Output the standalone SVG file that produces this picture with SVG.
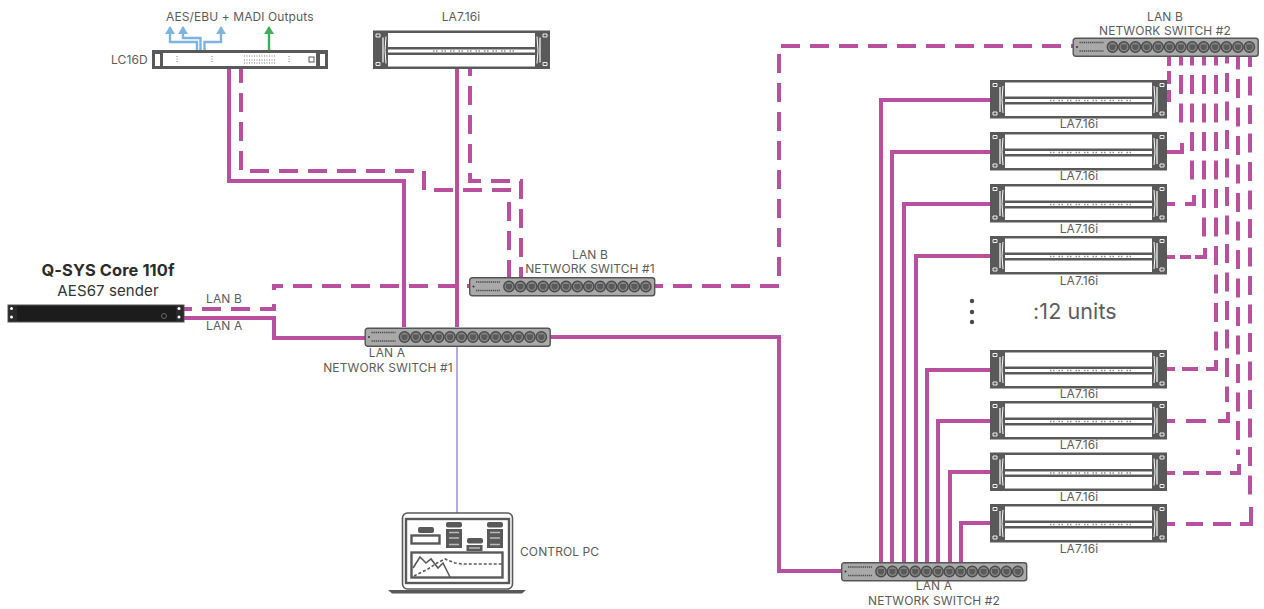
<svg xmlns="http://www.w3.org/2000/svg" width="1264" height="609" viewBox="0 0 1264 609">
<style>
text{font-family:"Inter","Liberation Sans",sans-serif;fill:#5c5c5c;font-size:12px;letter-spacing:.1px}
.m{text-anchor:middle}
.w{fill:none;stroke:#b9509f;stroke-width:4}
.d{stroke-dasharray:19 10}
.c{stroke-dasharray:19 9.500;stroke-dashoffset:9.500}
.lil{fill:none;stroke:#b3add8;stroke-width:2}
.bl{fill:none;stroke:#7db4e2;stroke-width:2.400}
.gr{fill:none;stroke:#3fae5c;stroke-width:2.400}
.dk{fill:#595959}
.wh{fill:#fff}
.lp{fill:none;stroke:#595959;stroke-width:2.400}
</style>
<defs>
<g id="port"><circle r="5.200" fill="#858585" stroke="#4a4a4a" stroke-width="1.400"/><path d="M-3-2.500H3V1L1.500 3H-1.500L-3 1Z" fill="#5a5a5a"/></g>
<g id="switch">
<rect x=".7" y=".7" width="185" height="18" rx="2.500" fill="#a9a9a9" stroke="#555" stroke-width="1.400"/>
<path d="M7 5H31M7 13.500H31" stroke="#4a4a4a" stroke-width="1.700" stroke-dasharray="1.300 .8" fill="none"/>
<circle cx="4.500" cy="9.500" r="1" fill="#333"/>
<use href="#port" x="40" y="9.500"/><use href="#port" x="51.400" y="9.500"/><use href="#port" x="62.800" y="9.500"/><use href="#port" x="74.200" y="9.500"/><use href="#port" x="85.600" y="9.500"/><use href="#port" x="97" y="9.500"/><use href="#port" x="108.400" y="9.500"/><use href="#port" x="119.800" y="9.500"/><use href="#port" x="131.200" y="9.500"/><use href="#port" x="142.600" y="9.500"/><use href="#port" x="154" y="9.500"/><use href="#port" x="165.400" y="9.500"/><use href="#port" x="176.800" y="9.500"/>
</g>
<g id="rack">
<rect width="177" height="38.500" class="dk"/>
<rect x="15" y="2.500" width="147" height="14" class="wh"/>
<rect x="15" y="19" width="147" height="3" class="wh"/>
<rect x="15" y="24.500" width="147" height="11.500" class="wh"/>
<path d="M60 20.500H142" stroke="#8a8a8a" stroke-width="1.600" stroke-dasharray="1.500 1.500 1.500 4" fill="none"/>
<path d="M10 7V32M167 7V32" stroke="#fff" stroke-width="1.200" fill="none"/>
<path d="M13 6Q11 20 13 33M164 6Q166 20 164 33" stroke="#fff" stroke-width="1" fill="none"/>
<path d="M3 3.500H7V6.500H3ZM3 32H7V35H3ZM170 3.500H174V6.500H170ZM170 32H174V35H170Z" fill="none" stroke="#fff" stroke-width=".9"/>
</g>
<marker id="ab" viewBox="0 0 8 10" refX="7" refY="5" markerWidth="8" markerHeight="10" markerUnits="userSpaceOnUse" orient="auto"><path d="M0 0L8 5L0 10Z" fill="#7db4e2"/></marker>
<marker id="ag" viewBox="0 0 8 10" refX="7" refY="5" markerWidth="8" markerHeight="10" markerUnits="userSpaceOnUse" orient="auto"><path d="M0 0L8 5L0 10Z" fill="#3fae5c"/></marker>
</defs>

<g id="connectors">
<path class="lil" d="M457 346V513"/>
<path class="bl" marker-end="url(#ab)" d="M197 50V42H170V27"/>
<path class="bl" marker-end="url(#ab)" d="M200.500 50V38H183V27"/>
<path class="bl" marker-end="url(#ab)" d="M204.500 50V42H221V27"/>
<path class="gr" marker-end="url(#ag)" d="M269 50V27"/>
<path class="w d" style="stroke-dashoffset:5" d="M241 69V171H424V190H509V277"/>
<path class="w d" style="stroke-dashoffset:11" d="M470 68V181H521V277"/>
<path class="w d" style="stroke-dashoffset:11" d="M184 309H274V297"/>
<path class="w d" style="stroke-dashoffset:6" d="M274 290V286H469"/>
<path class="w d" style="stroke-dashoffset:11" d="M655 286H779V46H1073"/>
<path class="w" d="M229 69V181H404V327"/>
<path class="w" d="M457 68V327"/>
<path class="w" d="M184 318H274V338H365"/>
<path class="w" d="M550 337H779V571H841"/>
<path class="w" d="M881 562V100H990"/>
<path class="w" d="M892 562V152H990"/>
<path class="w" d="M904 562V204H990"/>
<path class="w" d="M916 562V256H990"/>
<path class="w" d="M927 562V370H990"/>
<path class="w" d="M938 562V421H990"/>
<path class="w" d="M950 562V472H990"/>
<path class="w" d="M961 562V523H990"/>
<path class="w" d="M1169 56V66M1169 71V84M1169 90V102"/>
<path class="w c" d="M1181 56V123"/>
<path class="w" d="M1167 152H1182V143"/>
<path class="w c" d="M1192 56V184"/>
<path class="w" d="M1167 204H1175M1185 204H1194V195"/>
<path class="w c" d="M1204 56V240"/>
<path class="w" d="M1167 257H1175M1180 257H1191M1195 257H1205V248"/>
<path class="w c" d="M1216 56V351"/>
<path class="w" d="M1167 369H1175M1182 369H1198M1206 369H1216V360"/>
<path class="w c" style="stroke-dashoffset:11.500" d="M1227 56V402"/>
<path class="w" d="M1167 421H1175M1186 421H1206M1218 421H1228V412"/>
<path class="w c" style="stroke-dashoffset:5.500" d="M1238 56V455"/>
<path class="w" d="M1167 473H1175M1183 473H1199M1206 473H1221M1230 473H1239V464"/>
<path class="w c" style="stroke-dashoffset:8" d="M1250 56V498"/>
<path class="w" d="M1167 524H1175M1186 524H1203M1213 524H1231M1240 524H1251V507"/>
</g>

<g id="lc16d">
<rect x="152" y="50" width="176" height="19" class="dk"/>
<rect x="163" y="53" width="153" height="13" class="wh"/>
<path d="M177 56V63M212 56V63M244 56H276M244 60H276M244 63H276M289 56V63" stroke="#777" stroke-width="1" stroke-dasharray="1 1.500" fill="none"/>
<rect x="309" y="57" width="5" height="5" fill="none" stroke="#555"/>
<path d="M155 54H160V66H155ZM320 54H325V66H320Z" fill="#fff"/>
<text x="111" y="64">LC16D</text>
<text x="166" y="21">AES/EBU + MADI Outputs</text>
</g>

<g id="la-top"><use href="#rack" x="373" y="30.500"/><text class="m" x="461" y="21">LA7.16i</text></g>

<g id="qsys-core">
<rect x="8" y="305" width="176" height="17" fill="#1c1c1c" stroke="#555"/>
<path d="M9 306H17V321H9ZM176 306H183V321H176Z" fill="#2a2a2a"/>
<circle cx="11.500" cy="308.500" r="1.500" fill="#fff"/><circle cx="11.500" cy="317" r="1.500" fill="#fff"/><circle cx="179" cy="308.500" r="1.500" fill="#fff"/><circle cx="179" cy="317" r="1.500" fill="#fff"/>
<circle cx="164" cy="316" r="2.500" fill="none" stroke="#666"/>
<text class="m" x="108" y="276" style="font-size:16.400px;font-weight:700;fill:#2b2b2b">Q-SYS Core 110f</text>
<text class="m" x="108" y="296" style="font-size:15px;fill:#333">AES67 sender</text>
<text x="206" y="303">LAN B</text>
<text x="206" y="330">LAN A</text>
</g>

<g id="switch-a1"><use href="#switch" x="364.500" y="327.500"/><text class="m" x="387" y="357">LAN A</text><text class="m" x="388" y="372">NETWORK SWITCH #1</text></g>
<g id="switch-b1"><use href="#switch" x="469" y="277"/><text class="m" x="590" y="259">LAN B</text><text class="m" x="590" y="273">NETWORK SWITCH #1</text></g>
<g id="switch-b2"><use href="#switch" x="1072.500" y="37.500"/><text class="m" x="1165" y="21">LAN B</text><text class="m" x="1165" y="35">NETWORK SWITCH #2</text></g>
<g id="switch-a2"><use href="#switch" x="841" y="562"/><text class="m" x="934" y="590">LAN A</text><text class="m" x="934" y="605">NETWORK SWITCH #2</text></g>

<g id="la-1"><use href="#rack" x="990" y="80"/><text class="m" x="1079" y="128">LA7.16i</text></g>
<g id="la-2"><use href="#rack" x="990" y="132"/><text class="m" x="1079" y="180">LA7.16i</text></g>
<g id="la-3"><use href="#rack" x="990" y="184"/><text class="m" x="1079" y="233">LA7.16i</text></g>
<g id="la-4"><use href="#rack" x="990" y="236"/><text class="m" x="1079" y="285">LA7.16i</text></g>
<g id="la-5"><use href="#rack" x="990" y="350"/><text class="m" x="1079" y="398">LA7.16i</text></g>
<g id="la-6"><use href="#rack" x="990" y="401"/><text class="m" x="1079" y="449">LA7.16i</text></g>
<g id="la-7"><use href="#rack" x="990" y="452.500"/><text class="m" x="1079" y="501">LA7.16i</text></g>
<g id="la-8"><use href="#rack" x="990" y="504"/><text class="m" x="1079" y="553">LA7.16i</text></g>

<g id="units">
<circle cx="972" cy="301" r="2.200" fill="#4a4a4a"/><circle cx="972" cy="312" r="2.200" fill="#4a4a4a"/><circle cx="972" cy="322" r="2.200" fill="#4a4a4a"/>
<text x="1033" y="319" style="font-size:21.500px">:12 units</text>
</g>

<g id="control-pc">
<rect x="402.500" y="513" width="110" height="76" rx="5" fill="#fff" stroke="#595959" stroke-width="1.600"/>
<rect x="406" y="519" width="103" height="64" fill="#fff" stroke="#595959" stroke-width="2.400"/>
<path d="M388 590H526L522 593.500H392Z" fill="#595959"/>
<rect x="418" y="527" width="16" height="6" rx="2" class="dk"/>
<rect x="411.500" y="535.500" width="28" height="8" class="lp"/>
<rect x="446" y="522" width="16" height="5.500" rx="2" class="dk"/><rect x="446" y="529" width="16" height="19" class="dk"/>
<path d="M449 532.500H459M449 538H459M449 544.500H459" stroke="#bbb" stroke-width="1.500"/>
<rect x="467" y="538" width="16" height="5.500" rx="2" class="dk"/><rect x="466.500" y="545" width="16" height="6" class="dk"/>
<path d="M469 548H480" stroke="#bbb" stroke-width="1.500"/>
<rect x="487" y="522" width="16" height="5.500" rx="2" class="dk"/><rect x="487" y="529" width="16" height="19" class="dk"/>
<path d="M490 532.500H500M490 538H500M490 544.500H500" stroke="#bbb" stroke-width="1.500"/>
<rect x="411.500" y="552.500" width="91" height="25" class="lp"/>
<path d="M413 568L420 557L426 563L431 559L438 568L443 563L450 577" fill="none" stroke="#595959" stroke-width="1.600"/>
<path d="M414 576L428 569L437 563L445 559L455 563L462 564H503" fill="none" stroke="#595959" stroke-width="1.600" stroke-dasharray="3 2"/>
<text x="520" y="556">CONTROL PC</text>
</g>
</svg>
